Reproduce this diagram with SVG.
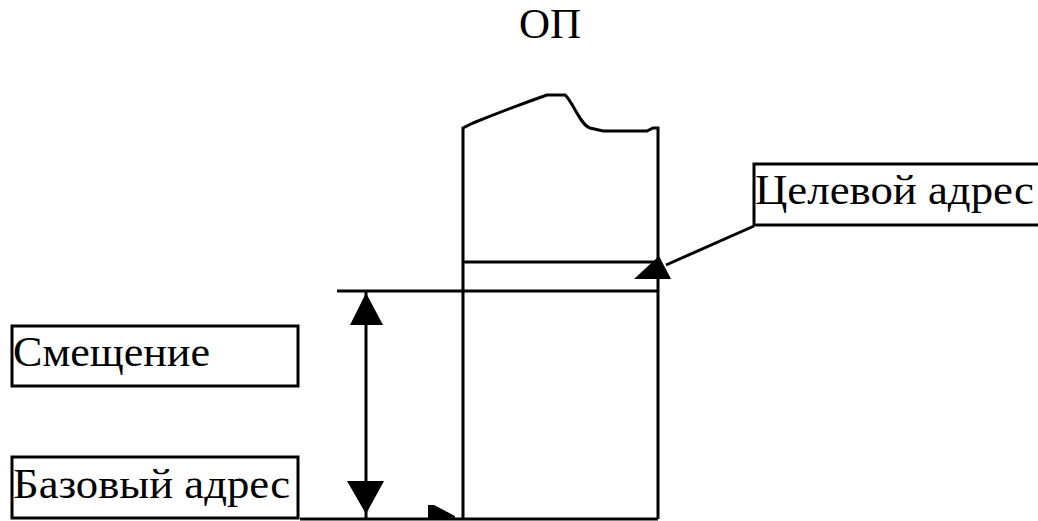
<svg xmlns="http://www.w3.org/2000/svg" width="1038" height="521" viewBox="0 0 1038 521">
<style>
.ln{fill:none;stroke:#000;stroke-width:3}
.box{fill:#fff;stroke:#000;stroke-width:3}
.ah{fill:#000;stroke:none}
text{font-family:"Liberation Serif","Times New Roman",serif;font-size:43px;fill:#000}
</style>
<rect width="1038" height="521" fill="#fff"/>
<g id="title"><text x="550" y="38" text-anchor="middle">ОП</text></g>
<g id="memory">
<path class="ln" d="M463,519 V128 L473,123 Q510,108 547,95 H565 C572,100 580,125 590,128 L603,131 H647 L653,128 H658 V519"/>
<line class="ln" x1="463" y1="262" x2="658" y2="262"/>
</g>
<g id="target">
<rect class="box" x="754" y="164" width="290" height="61"/>
<text x="755" y="204" textLength="279" lengthAdjust="spacingAndGlyphs">Целевой адрес</text>
</g>
<g id="offset">
<rect class="box" x="12" y="326" width="286" height="60"/>
<text x="13" y="366" textLength="197" lengthAdjust="spacingAndGlyphs">Смещение</text>
</g>
<g id="base">
<rect class="box" x="12" y="457" width="286" height="61"/>
<text x="13" y="498" textLength="277" lengthAdjust="spacingAndGlyphs">Базовый адрес</text>
</g>
<g id="connectors">
<line class="ln" x1="300" y1="519" x2="658" y2="519"/>
<line class="ln" x1="337" y1="291" x2="658" y2="291"/>
<line class="ln" x1="366" y1="292" x2="366" y2="519"/>
<polygon class="ah" points="366,293 350,325 383,325"/>
<polygon class="ah" points="347,481 384,481 366,514"/>
<polygon class="ah" points="428,505 434,505 455,516 455,519 428,519"/>
<line class="ln" x1="754" y1="226" x2="666" y2="265"/>
<polygon class="ah" points="659,256 634,279 671,279"/>
</g>
</svg>
